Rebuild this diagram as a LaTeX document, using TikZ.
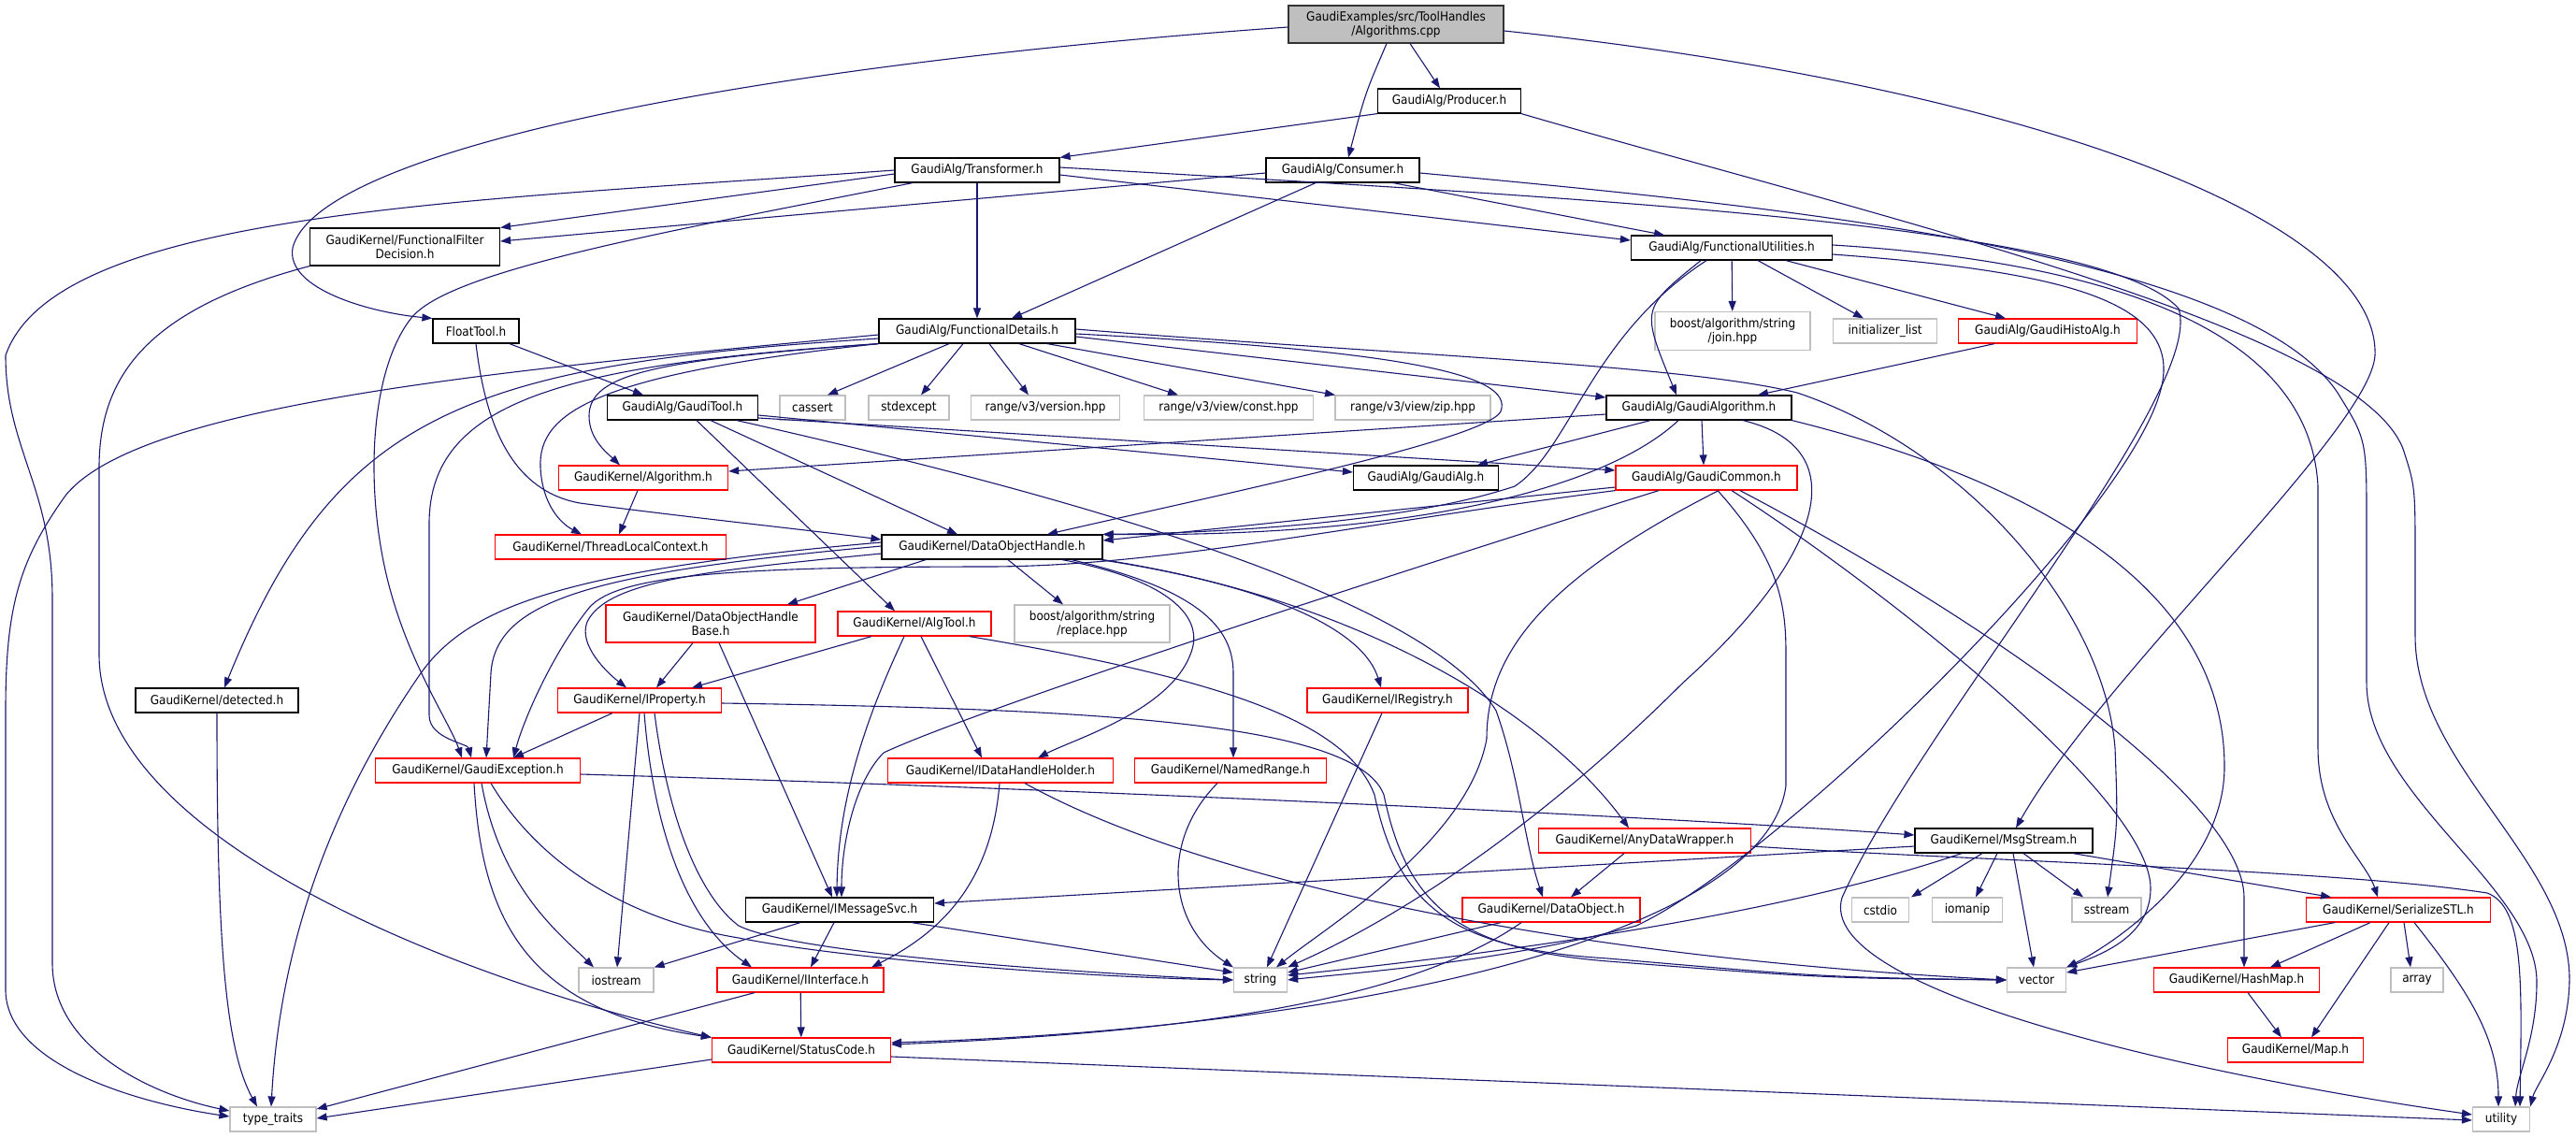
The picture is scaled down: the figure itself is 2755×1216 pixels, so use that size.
\documentclass[tikz,border=0pt]{standalone}
\usepackage{fontspec}
\setmainfont{DejaVu Sans Condensed}
\usetikzlibrary{arrows.meta}
\definecolor{edgeblue}{HTML}{191970}
\definecolor{truncred}{HTML}{FF0000}
\definecolor{sysgray}{HTML}{BFBFBF}
\definecolor{maingray}{HTML}{BFBFBF}

\begin{document}
\begin{tikzpicture}[x=0.5pt, y=-0.5pt,
    nd/.style={rectangle, inner sep=0pt, line width=0.6pt, minimum height=13pt,
        align=center, font=\fontsize{6.7}{7.7}\selectfont},
    mainbox/.style={nd, draw=black!80, fill=maingray},
    blkbox/.style={nd, draw=black},
    truncbox/.style={nd, draw=truncred},
    sysbox/.style={nd, draw=sysgray},
    incl/.style={draw=edgeblue, line width=0.55pt, -{Triangle[length=5.5pt, width=4pt]}}]

    \useasboundingbox (0,0) rectangle (2755,1216);

    % nodes, top to bottom
    \node[mainbox, minimum width=115pt, minimum height=20pt] (top) at (1493,26) {GaudiExamples/src/ToolHandles\\/Algorithms.cpp};
    \node[blkbox, minimum width=76.5pt] (prod) at (1550,108) {GaudiAlg/Producer.h};
    \node[blkbox, minimum width=88pt] (trans) at (1045,182) {GaudiAlg/Transformer.h};
    \node[blkbox, minimum width=82pt] (cons) at (1436,182) {GaudiAlg/Consumer.h};
    \node[blkbox, minimum width=101.5pt, minimum height=20pt] (ffd) at (433,264) {GaudiKernel/FunctionalFilter\\Decision.h};
    \node[blkbox, minimum width=107.5pt] (futil) at (1852,265) {GaudiAlg/FunctionalUtilities.h};
    \node[blkbox, minimum width=105pt] (fdet) at (1045,354) {GaudiAlg/FunctionalDetails.h};
    \node[blkbox, minimum width=46pt] (float) at (509,354) {FloatTool.h};
    \node[sysbox, minimum width=83pt, minimum height=20.5pt] (join) at (1853,354) {boost/algorithm/string\\/join.hpp};
    \node[sysbox, minimum width=55.5pt] (initl) at (2016,354) {initializer\_list};
    \node[truncbox, minimum width=95.5pt] (histo) at (2190,354) {GaudiAlg/GaudiHistoAlg.h};
    \node[blkbox, minimum width=80.5pt] (gtool) at (730,436) {GaudiAlg/GaudiTool.h};
    \node[sysbox, minimum width=35pt] (cassert) at (869,436) {cassert};
    \node[sysbox, minimum width=43pt] (stdexc) at (972,436) {stdexcept};
    \node[sysbox, minimum width=79.5pt] (rversion) at (1118,436) {range/v3/version.hpp};
    \node[sysbox, minimum width=90.5pt] (rconst) at (1314,436) {range/v3/view/const.hpp};
    \node[sysbox, minimum width=83pt] (rzip) at (1511,436) {range/v3/view/zip.hpp};
    \node[blkbox, minimum width=99pt] (galgo) at (1817,436) {GaudiAlg/GaudiAlgorithm.h};
    \node[truncbox, minimum width=90.5pt] (algh) at (688,511) {GaudiKernel/Algorithm.h};
    \node[blkbox, minimum width=77.5pt] (galg) at (1525,511) {GaudiAlg/GaudiAlg.h};
    \node[truncbox, minimum width=97pt] (gcommon) at (1825,511) {GaudiAlg/GaudiCommon.h};
    \node[truncbox, minimum width=123.5pt] (tlc) at (653,585) {GaudiKernel/ThreadLocalContext.h};
    \node[blkbox, minimum width=118pt] (doh) at (1061,585) {GaudiKernel/DataObjectHandle.h};
    \node[truncbox, minimum width=112pt, minimum height=20pt] (dohb) at (760,667) {GaudiKernel/DataObjectHandle\\Base.h};
    \node[truncbox, minimum width=82pt] (algtool) at (978,667) {GaudiKernel/AlgTool.h};
    \node[sysbox, minimum width=83pt, minimum height=20pt] (replace) at (1168,667) {boost/algorithm/string\\/replace.hpp};
    \node[blkbox, minimum width=87pt] (detected) at (232,749) {GaudiKernel/detected.h};
    \node[truncbox, minimum width=87.5pt] (iprop) at (684,749) {GaudiKernel/IProperty.h};
    \node[truncbox, minimum width=86pt] (iregistry) at (1484,749) {GaudiKernel/IRegistry.h};
    \node[truncbox, minimum width=109.5pt] (gexc) at (511,824) {GaudiKernel/GaudiException.h};
    \node[truncbox, minimum width=120.5pt] (idhh) at (1070,824) {GaudiKernel/IDataHandleHolder.h};
    \node[truncbox, minimum width=102.5pt] (namedr) at (1316,824) {GaudiKernel/NamedRange.h};
    \node[truncbox, minimum width=113.5pt] (anydw) at (1759,899) {GaudiKernel/AnyDataWrapper.h};
    \node[blkbox, minimum width=95pt] (msgs) at (2143,899) {GaudiKernel/MsgStream.h};
    \node[blkbox, minimum width=100.5pt] (imsg) at (898,973) {GaudiKernel/IMessageSvc.h};
    \node[truncbox, minimum width=95pt] (dobj) at (1659,973) {GaudiKernel/DataObject.h};
    \node[sysbox, minimum width=30.5pt] (cstdio) at (2011,973) {cstdio};
    \node[sysbox, minimum width=37.5pt] (iomanip) at (2104,973) {iomanip};
    \node[sysbox, minimum width=37pt] (sstream) at (2253,973) {sstream};
    \node[truncbox, minimum width=98.5pt] (sstl) at (2565,973) {GaudiKernel/SerializeSTL.h};
    \node[sysbox, minimum width=40pt] (iostream) at (659,1048) {iostream};
    \node[truncbox, minimum width=89pt] (iinterface) at (856,1048) {GaudiKernel/IInterface.h};
    \node[sysbox, minimum width=28.5pt] (string) at (1348,1048) {string};
    \node[sysbox, minimum width=31.5pt] (vector) at (2178,1048) {vector};
    \node[truncbox, minimum width=88.5pt] (hashmap) at (2392,1048) {GaudiKernel/HashMap.h};
    \node[sysbox, minimum width=28pt] (array) at (2585,1048) {array};
    \node[truncbox, minimum width=95.5pt] (statusc) at (857,1123) {GaudiKernel/StatusCode.h};
    \node[truncbox, minimum width=72.5pt] (mapH) at (2455,1123) {GaudiKernel/Map.h};
    \node[sysbox, minimum width=46pt] (typet) at (292,1197) {type\_traits};
    \node[sysbox, minimum width=30.5pt] (utility) at (2675,1197) {utility};

    % Algorithms.cpp
    \draw[incl] (top.west |- 0,29) .. controls (800,70) and (340,160) .. (313,265) .. controls (305,310) and (400,335) .. (float.north west);
    \draw[incl] (1508,0 |- top.south) -- (1540,0 |- prod.north);
    \draw[incl] (1483,0 |- top.south) .. controls (1460,100) .. (1442,0 |- cons.north);
    \draw[incl] (top.east |- 0,33) .. controls (2150,90) and (2545,230) .. (2540,380) .. controls (2535,460) and (2250,720) .. (2156,0 |- msgs.north);

    % Producer.h
    \draw[incl] (prod.south west) -- (trans.north east);
    \draw[incl] (prod.south east) .. controls (2000,230) and (2520,350) .. (2570,480) .. controls (2583,520) .. (2583,600) -- (2583,680) .. controls (2583,820) and (2750,920) .. (2748,1050) .. controls (2746,1120) and (2712,1160) .. (utility.north east);

    % Transformer.h
    \draw[incl] (trans.west) .. controls (500,215) and (60,225) .. (6,380) .. controls (6,480) and (56,520) .. (56,640) -- (56,1030) .. controls (56,1120) and (160,1170) .. (typet.west |- 0,1188);
    \draw[incl] (trans.west |- 0,186) -- (ffd.north east);
    \draw[incl] (976,0 |- trans.south) .. controls (700,250) and (480,290) .. (440,340) .. controls (400,390) and (390,500) .. (410,600) .. controls (430,700) and (480,770) .. (494,0 |- gexc.north);
    \draw[incl] (trans) -- (fdet);
    \draw[incl] (trans.east |- 0,187) -- (futil.west |- 0,257);
    \draw[incl] (trans.east |- 0,179) .. controls (1700,212) and (2250,240) .. (2330,330) .. controls (2360,420) and (2050,780) .. (1970,960) .. controls (1940,1060) and (2350,1150) .. (utility.west |- 0,1192);

    % Consumer.h
    \draw[incl] (cons.west |- 0,185) -- (ffd.east |- 0,258);
    \draw[incl] (1407,0 |- cons.south) -- (1082,0 |- fdet.north);
    \draw[incl] (1490,0 |- cons.south) -- (1780,0 |- futil.north);
    \draw[incl] (cons.east |- 0,185) .. controls (1900,220) and (2400,270) .. (2500,420) .. controls (2531,470) .. (2531,560) -- (2531,730) .. controls (2531,850) and (2713,950) .. (2713,1050) .. controls (2713,1110) and (2692,1150) .. (2690,0 |- utility.north);

    \draw[incl] (ffd.south west) .. controls (160,330) and (106,400) .. (106,500) -- (106,700) .. controls (106,900) and (500,1050) .. (statusc.north west);

    % FunctionalUtilities.h
    \draw[incl] (1825,0 |- futil.south) .. controls (1700,360) and (1680,480) .. (1620,520) .. controls (1500,560) and (1300,570) .. (doh.north east);
    \draw[incl] (1819,0 |- futil.south) .. controls (1755,330) .. (1793,0 |- galgo.north);
    \draw[incl] (futil) -- (join);
    \draw[incl] (1880,0 |- futil.south) -- (1993,0 |- initl.north);
    \draw[incl] (1910,0 |- futil.south) -- (2145,0 |- histo.north);
    \draw[incl] (futil.east |- 0,262) .. controls (2250,280) and (2470,350) .. (2479,520) -- (2479,800) .. controls (2479,880) and (2530,920) .. (2543,0 |- sstl.north);
    \draw[incl] (futil.east |- 0,272) .. controls (2200,290) and (2340,320) .. (2310,420) .. controls (2270,560) and (1900,920) .. (1750,990) .. controls (1600,1030) and (1450,1040) .. (string.east);

    % FloatTool.h
    \draw[incl] (545,0 |- float.south) -- (688,0 |- gtool.north);
    \draw[incl] (float.south) .. controls (520,460) and (550,525) .. (620,538) .. controls (750,555) and (850,565) .. (doh.west |- 0,577);

    % FunctionalDetails.h
    \draw[incl] (fdet.west |- 0,358) .. controls (550,395) and (150,430) .. (70,530) .. controls (20,600) and (6,650) .. (6,760) -- (6,1060) .. controls (8,1140) and (150,1180) .. (typet.west |- 0,1194);
    \draw[incl] (fdet.west |- 0,362) .. controls (500,390) and (360,440) .. (240,0 |- detected.north);
    \draw[incl] (fdet.south west) .. controls (600,390) and (459,430) .. (459,560) -- (459,765) .. controls (459,790) and (500,795) .. (504,0 |- gexc.north);
    \draw[incl] (fdet.south west) .. controls (700,385) and (630,400) .. (630,445) .. controls (630,470) and (650,485) .. (663,0 |- algh.north);
    \draw[incl] (fdet.south west) .. controls (640,400) and (575,440) .. (578,500) .. controls (580,540) and (600,560) .. (622,0 |- tlc.north);
    \draw[incl] (1015,0 |- fdet.south) -- (885,0 |- cassert.north);
    \draw[incl] (1030,0 |- fdet.south) -- (985,0 |- stdexc.north);
    \draw[incl] (1058,0 |- fdet.south) -- (1100,0 |- rversion.north);
    \draw[incl] (1090,0 |- fdet.south) -- (1260,0 |- rconst.north);
    \draw[incl] (1120,0 |- fdet.south) -- (1428,0 |- rzip.north);
    \draw[incl] (fdet.east |- 0,360) -- (galgo.west |- 0,425);
    \draw[incl] (fdet.east |- 0,357) .. controls (1500,375) and (1620,400) .. (1605,440) .. controls (1590,470) and (1300,530) .. (1120,0 |- doh.north);
    \draw[incl] (fdet.east |- 0,352) .. controls (1500,380) and (1800,390) .. (1922,420) .. controls (2100,480) and (2250,650) .. (2262,800) .. controls (2265,880) .. (2254,0 |- sstream.north);

    \draw[incl] (2133,0 |- histo.south) -- (1880,0 |- galgo.north);

    % GaudiTool.h
    \draw[incl] (gtool.east |- 0,444) -- (galg.west |- 0,505);
    \draw[incl] (gtool.east |- 0,447) -- (gcommon.west |- 0,503);
    \draw[incl] (745,0 |- gtool.south) -- (957,0 |- algtool.north);
    \draw[incl] (760,0 |- gtool.south) -- (1024,0 |- doh.north);
    \draw[incl] (788,0 |- gtool.south) .. controls (1100,520) and (1520,630) .. (1600,760) .. controls (1625,830) and (1630,900) .. (1650,0 |- dobj.north);

    % GaudiAlgorithm.h
    \draw[incl] (galgo.west |- 0,443) -- (algh.east |- 0,504);
    \draw[incl] (1765,0 |- galgo.south) -- (1580,0 |- galg.north);
    \draw[incl] (1795,0 |- galgo.south) .. controls (1720,520) and (1520,575) .. (doh.north east);
    \draw[incl] (1820,0 |- galgo.south) -- (1822,0 |- gcommon.north);
    \draw[incl] (1864,0 |- galgo.south) .. controls (1990,480) and (1945,600) .. (1800,730) .. controls (1650,880) and (1500,980) .. (string.north east);
    \draw[incl] (galgo.south east) .. controls (2200,520) and (2379,640) .. (2379,820) .. controls (2379,930) and (2260,1010) .. (vector.north east);

    \draw[incl] (682,0 |- algh.south) -- (662,0 |- tlc.north);

    % GaudiCommon.h
    \draw[incl] (gcommon.west |- 0,521) -- (doh.east |- 0,578);
    \draw[incl] (gcommon.south west) .. controls (1450,560) and (1250,605) .. (1060,606) .. controls (780,606) and (660,615) .. (630,650) .. controls (590,700) and (560,770) .. (549,0 |- gexc.north);
    \draw[incl] (1774,0 |- gcommon.south) .. controls (1500,610) and (1040,760) .. (945,805) .. controls (915,835) and (900,900) .. (900,0 |- imsg.north);
    \draw[incl] (1838,0 |- gcommon.south) .. controls (1650,620) and (1590,700) .. (1590,790) .. controls (1570,900) and (1420,990) .. (1365,0 |- string.north);
    \draw[incl] (1837,0 |- gcommon.south) .. controls (1905,600) and (1910,650) .. (1910,700) -- (1910,840) .. controls (1890,1000) and (1450,1100) .. (statusc.east |- 0,1115);
    \draw[incl] (1852,0 |- gcommon.south) .. controls (2000,620) and (2300,850) .. (2300,950) .. controls (2300,1000) and (2250,1020) .. (vector.north east);
    \draw[incl] (1861,0 |- gcommon.south) .. controls (2100,650) and (2400,850) .. (2400,960) -- (2400,0 |- hashmap.north);

    % DataObjectHandle.h
    \draw[incl] (doh.west |- 0,580) .. controls (600,610) and (500,650) .. (450,720) .. controls (360,850) and (300,1000) .. (290,0 |- typet.north);
    \draw[incl] (doh.west |- 0,584) .. controls (640,612) and (530,640) .. (525,720) -- (520,0 |- gexc.north);
    \draw[incl] (doh.west |- 0,592) .. controls (760,610) and (650,620) .. (628,665) .. controls (618,690) and (650,720) .. (670,0 |- iprop.north);
    \draw[incl] (990,0 |- doh.south) -- (842,0 |- dohb.north);
    \draw[incl] (1078,0 |- doh.south) -- (1137,0 |- replace.north);
    \draw[incl] (1136,0 |- doh.south) .. controls (1250,620) and (1290,660) .. (1273,700) .. controls (1250,760) and (1150,790) .. (1110,0 |- idhh.north);
    \draw[incl] (1146,0 |- doh.south) .. controls (1280,630) and (1319,670) .. (1319,720) -- (1319,0 |- namedr.north);
    \draw[incl] (1177,0 |- doh.south) .. controls (1380,630) and (1460,680) .. (1477,0 |- iregistry.north);
    \draw[incl] (doh.south east) .. controls (1450,640) and (1650,760) .. (1742,0 |- anydw.north);

    \draw[incl] (741,0 |- dohb.south) -- (702,0 |- iprop.north);
    \draw[incl] (769,0 |- dohb.south) -- (890,0 |- imsg.north);

    % AlgTool.h
    \draw[incl] (932,0 |- algtool.south) -- (740,0 |- iprop.north);
    \draw[incl] (967,0 |- algtool.south) .. controls (930,760) and (896,850) .. (895,0 |- imsg.north);
    \draw[incl] (985,0 |- algtool.south) -- (1050,0 |- idhh.north);
    \draw[incl] (1037,0 |- algtool.south) .. controls (1300,725) and (1440,770) .. (1470,850) .. controls (1495,970) and (1555,1015) .. (1720,1025) .. controls (1950,1045) .. (vector.west);

    % IProperty.h
    \draw[incl] (655,0 |- iprop.south) -- (549,0 |- gexc.north);
    \draw[incl] (684,0 |- iprop.south) -- (660,0 |- iostream.north);
    \draw[incl] (689,0 |- iprop.south) .. controls (700,900) and (740,990) .. (804,0 |- iinterface.north);
    \draw[incl] (700,0 |- iprop.south) .. controls (715,880) and (750,960) .. (790,990) .. controls (850,1020) and (1150,1040) .. (string.west);
    \draw[incl] (iprop.east |- 0,752) .. controls (1150,758) and (1450,770) .. (1480,850) .. controls (1505,970) and (1560,1015) .. (1720,1028) .. controls (1950,1046) .. (vector.west);

    % GaudiException.h
    \draw[incl] (gexc.east |- 0,828) .. controls (1200,845) and (1800,875) .. (msgs.west |- 0,893);
    \draw[incl] (515,0 |- gexc.south) .. controls (535,950) and (600,1000) .. (635,0 |- iostream.north);
    \draw[incl] (507,0 |- gexc.south) .. controls (515,980) and (560,1080) .. (statusc.north west);
    \draw[incl] (525,0 |- gexc.south) .. controls (580,930) and (680,985) .. (790,1003) .. controls (900,1025) and (1150,1045) .. (string.west);

    % IMessageSvc.h
    \draw[incl] (856,0 |- imsg.south) -- (iostream.north east);
    \draw[incl] (892,0 |- imsg.south) -- (867,0 |- iinterface.north);
    \draw[incl] (975,0 |- imsg.south) -- (string.west |- 0,1040);

    \draw[incl] (1069,0 |- idhh.south) .. controls (1060,950) and (1000,1000) .. (932,0 |- iinterface.north);
    \draw[incl] (1096,0 |- idhh.south) .. controls (1300,950) and (1700,1025) .. (vector.west);
    \draw[incl] (1302,0 |- namedr.south) .. controls (1240,900) and (1250,990) .. (string.north west);
    \draw[incl] (1478,0 |- iregistry.south) -- (1355,0 |- string.north);
    \draw[incl] (1737,0 |- anydw.south) -- (1680,0 |- dobj.north);
    \draw[incl] (anydw.east |- 0,905) .. controls (2100,920) and (2500,930) .. (2660,955) .. controls (2700,970) and (2697,1050) .. (2695,0 |- utility.north);

    % MsgStream.h
    \draw[incl] (msgs.west |- 0,905) -- (imsg.east |- 0,966);
    \draw[incl] (2098,0 |- msgs.south) .. controls (1900,980) and (1600,1020) .. (string.east |- 0,1043);
    \draw[incl] (2120,0 |- msgs.south) -- (2044,0 |- cstdio.north);
    \draw[incl] (2136,0 |- msgs.south) -- (2113,0 |- iomanip.north);
    \draw[incl] (2153,0 |- msgs.south) -- (2175,0 |- vector.north);
    \draw[incl] (2164,0 |- msgs.south) -- (2228,0 |- sstream.north);
    \draw[incl] (2217,0 |- msgs.south) -- (2493,0 |- sstl.north);

    % SerializeSTL.h
    \draw[incl] (2497,0 |- sstl.south) -- (vector.east |- 0,1040);
    \draw[incl] (2535,0 |- sstl.south) -- (2428,0 |- hashmap.north);
    \draw[incl] (2555,0 |- sstl.south) -- (2472,0 |- mapH.north);
    \draw[incl] (2571,0 |- sstl.south) -- (2578,0 |- array.north);
    \draw[incl] (2582,0 |- sstl.south) .. controls (2640,1060) and (2672,1110) .. (2672,0 |- utility.north);
    \draw[incl] (2404,0 |- hashmap.south) -- (2440,0 |- mapH.north);

    % bottom rows
    \draw[incl] (807,0 |- iinterface.south) -- (typet.east |- 0,1186);
    \draw[incl] (iinterface) -- (statusc);
    \draw[incl] (statusc.west |- 0,1133) -- (typet.east |- 0,1196);
    \draw[incl] (statusc.east |- 0,1130) -- (utility.west |- 0,1198);
    \draw[incl] (1605,0 |- dobj.south) -- (string.east |- 0,1040);
    \draw[incl] (1627,0 |- dobj.south) .. controls (1500,1075) and (1250,1105) .. (statusc.east |- 0,1117);
    \draw[incl] (232,0 |- detected.south) .. controls (232,1000) and (240,1120) .. (275,0 |- typet.north);
\end{tikzpicture}
\end{document}
